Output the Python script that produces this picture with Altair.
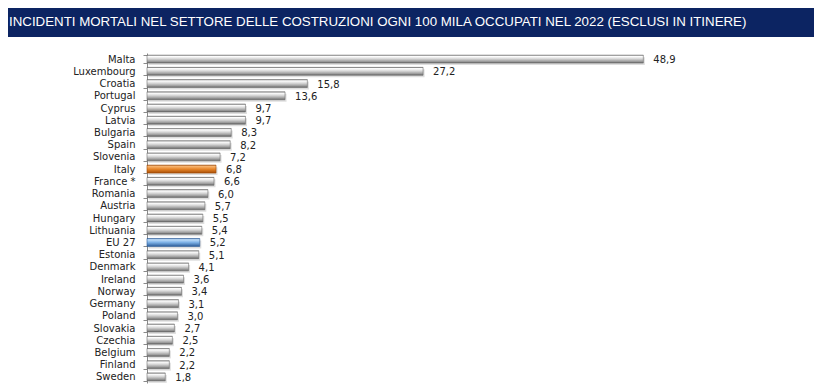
import altair as alt
import pandas as pd

countries = ["Malta", "Luxembourg", "Croatia", "Portugal", "Cyprus", "Latvia", "Bulgaria",
             "Spain", "Slovenia", "Italy", "France *", "Romania", "Austria", "Hungary",
             "Lithuania", "EU 27", "Estonia", "Denmark", "Ireland", "Norway", "Germany",
             "Poland", "Slovakia", "Czechia", "Belgium", "Finland", "Sweden"]
values = [48.9, 27.2, 15.8, 13.6, 9.7, 9.7, 8.3, 8.2, 7.2, 6.8, 6.6, 6.0, 5.7, 5.5,
          5.4, 5.2, 5.1, 4.1, 3.6, 3.4, 3.1, 3.0, 2.7, 2.5, 2.2, 2.2, 1.8]
highlight = {"Italy": "italy", "EU 27": "eu"}

title_text = "INCIDENTI MORTALI NEL SETTORE DELLE COSTRUZIONI OGNI 100 MILA OCCUPATI NEL 2022 (ESCLUSI IN ITINERE)"

df = pd.DataFrame({"country": countries, "value": values})
df["group"] = [highlight.get(c, "other") for c in countries]

W, H = 609, 330
PAD = {"left": 139, "top": 45, "right": 58, "bottom": 1}

def grad(stops):
    return alt.Gradient(gradient="linear", x1=0, x2=0, y1=0, y2=1,
                        stops=[alt.GradientStop(offset=o, color=c) for o, c in stops])

gray = grad([(0, "#808080"), (0.15, "#ffffff"), (0.45, "#d8d8d8"), (0.8, "#9a9a9a"), (1, "#5e5e5e")])
orange = grad([(0, "#b55a0a"), (0.15, "#f8b570"), (0.5, "#e8862a"), (1, "#a54d05")])
blue = grad([(0, "#3b6ea8"), (0.15, "#c0defa"), (0.5, "#7db1e6"), (1, "#2d5d99")])

y_enc = alt.Y("country:N", sort=countries,
              scale=alt.Scale(paddingInner=0.35, paddingOuter=0.175),
              axis=alt.Axis(title=None, labelFont="DejaVu Sans", labelFontSize=10,
                            labelColor="#222222", domainColor="#8a8a8a", tickColor="#8a8a8a",
                            tickSize=4, tickBand="extent", labelPadding=8, grid=False))
x_enc = alt.X("value:Q", scale=alt.Scale(domain=[0, 60], nice=False), axis=None)

base = alt.Chart(df).encode(y=y_enc, x=x_enc)

shadow = base.mark_bar(color="#000000", opacity=0.13, yOffset=2, xOffset=1.5)
bars_gray = base.transform_filter("datum.group == 'other'").mark_bar(
    color=gray, stroke="#707070", strokeWidth=0.6)
bars_it = base.transform_filter("datum.group == 'italy'").mark_bar(
    color=orange, stroke="#a04c08", strokeWidth=0.6)
bars_eu = base.transform_filter("datum.group == 'eu'").mark_bar(
    color=blue, stroke="#2d5d99", strokeWidth=0.6)

labels = base.transform_calculate(
    lbl="replace(format(datum.value, '.1f'), '.', ',')"
).mark_text(align="left", baseline="middle", dx=10, dy=1, font="DejaVu Sans",
            fontSize=10, color="#222222").encode(text="lbl:N")

band = alt.Chart(pd.DataFrame({"t": [title_text]})).mark_rect(color="#0c2462").encode(
    x=alt.value(-PAD["left"]), x2=alt.value(W + PAD["right"]),
    y=alt.value(-PAD["top"]), y2=alt.value(-16))
title = alt.Chart(pd.DataFrame({"t": [title_text]})).mark_text(
    align="left", baseline="middle", font="Liberation Sans", fontSize=13.3,
    color="#ffffff").encode(x=alt.value(-PAD["left"] + 1), y=alt.value(-31), text="t:N")

chart = alt.layer(band, title, shadow, bars_gray, bars_it, bars_eu, labels).properties(
    width=W, height=H,
    autosize=alt.AutoSizeParams(type="none"),
    padding=PAD,
    background="#ffffff",
).configure_view(stroke=None)

chart.save("out.html", embed_options={"renderer": "svg", "actions": False})
